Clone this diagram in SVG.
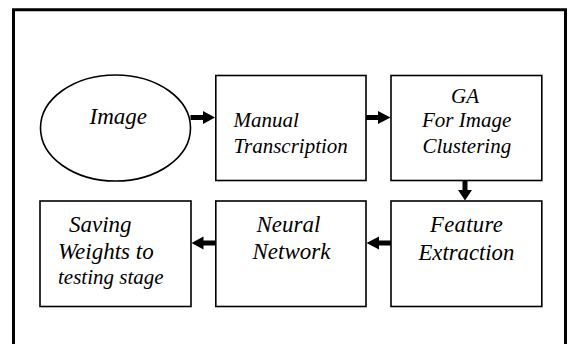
<svg xmlns="http://www.w3.org/2000/svg" width="568" height="344" viewBox="0 0 568 344">
<style>
.box{fill:#fff;stroke:#000;stroke-width:1.6}
.a{fill:#000;stroke:none}
</style>
<rect width="568" height="344" fill="#fff"/>
<path d="M13.5,350 V9.75 H565.5 V350" fill="none" stroke="#000" stroke-width="3"/>
<g id="image">
<ellipse class="box" cx="115.5" cy="128" rx="75" ry="53"/>
<text x="89.5" y="124" font-family="Liberation Serif" font-style="italic" font-size="23">Image</text>
</g>
<g id="manual">
<rect class="box" x="215.8" y="75.5" width="150.2" height="105"/>
<text x="233.5" y="127" font-family="Liberation Serif" font-style="italic" font-size="21">Manual</text>
<text x="233.5" y="152.5" font-family="Liberation Serif" font-style="italic" font-size="21">Transcription</text>
</g>
<g id="ga">
<rect class="box" x="391" y="75.5" width="150.8" height="105"/>
<text x="451" y="103" font-family="Liberation Serif" font-style="italic" font-size="21">GA</text>
<text x="422" y="127" font-family="Liberation Serif" font-style="italic" font-size="21">For Image</text>
<text x="422.5" y="152.5" font-family="Liberation Serif" font-style="italic" font-size="21">Clustering</text>
</g>
<g id="feature">
<rect class="box" x="391" y="201" width="150.8" height="105.5"/>
<text x="430" y="232" font-family="Liberation Serif" font-style="italic" font-size="22.7" letter-spacing="0.3">Feature</text>
<text x="418.5" y="260" font-family="Liberation Serif" font-style="italic" font-size="22.7">Extraction</text>
</g>
<g id="neural">
<rect class="box" x="215.8" y="201" width="150.2" height="105.5"/>
<text x="256.5" y="232" font-family="Liberation Serif" font-style="italic" font-size="23">Neural</text>
<text x="252.5" y="259" font-family="Liberation Serif" font-style="italic" font-size="23">Network</text>
</g>
<g id="saving">
<rect class="box" x="40" y="201" width="151" height="105.5"/>
<text x="69" y="232" font-family="Liberation Serif" font-style="italic" font-size="23">Saving</text>
<text x="58" y="259" font-family="Liberation Serif" font-style="italic" font-size="23">Weights to</text>
<text x="58" y="284" font-family="Liberation Serif" font-style="italic" font-size="21">testing stage</text>
</g>
<g id="connectors">
<polygon class="a" points="190.5,115 203,115 203,111 215,117.5 203,124 203,120 190.5,120"/>
<polygon class="a" points="366,115 378,115 378,111 390.5,117.5 378,124 378,120 366,120"/>
<polygon class="a" points="462.5,181 467.5,181 467.5,190 472,190 465,200.5 458,190 462.5,190"/>
<polygon class="a" points="391,240.5 379,240.5 379,236.5 366.5,243 379,249.5 379,245.5 391,245.5"/>
<polygon class="a" points="215.5,240.5 203.5,240.5 203.5,236.5 191.5,243 203.5,249.5 203.5,245.5 215.5,245.5"/>
</g>
</svg>
